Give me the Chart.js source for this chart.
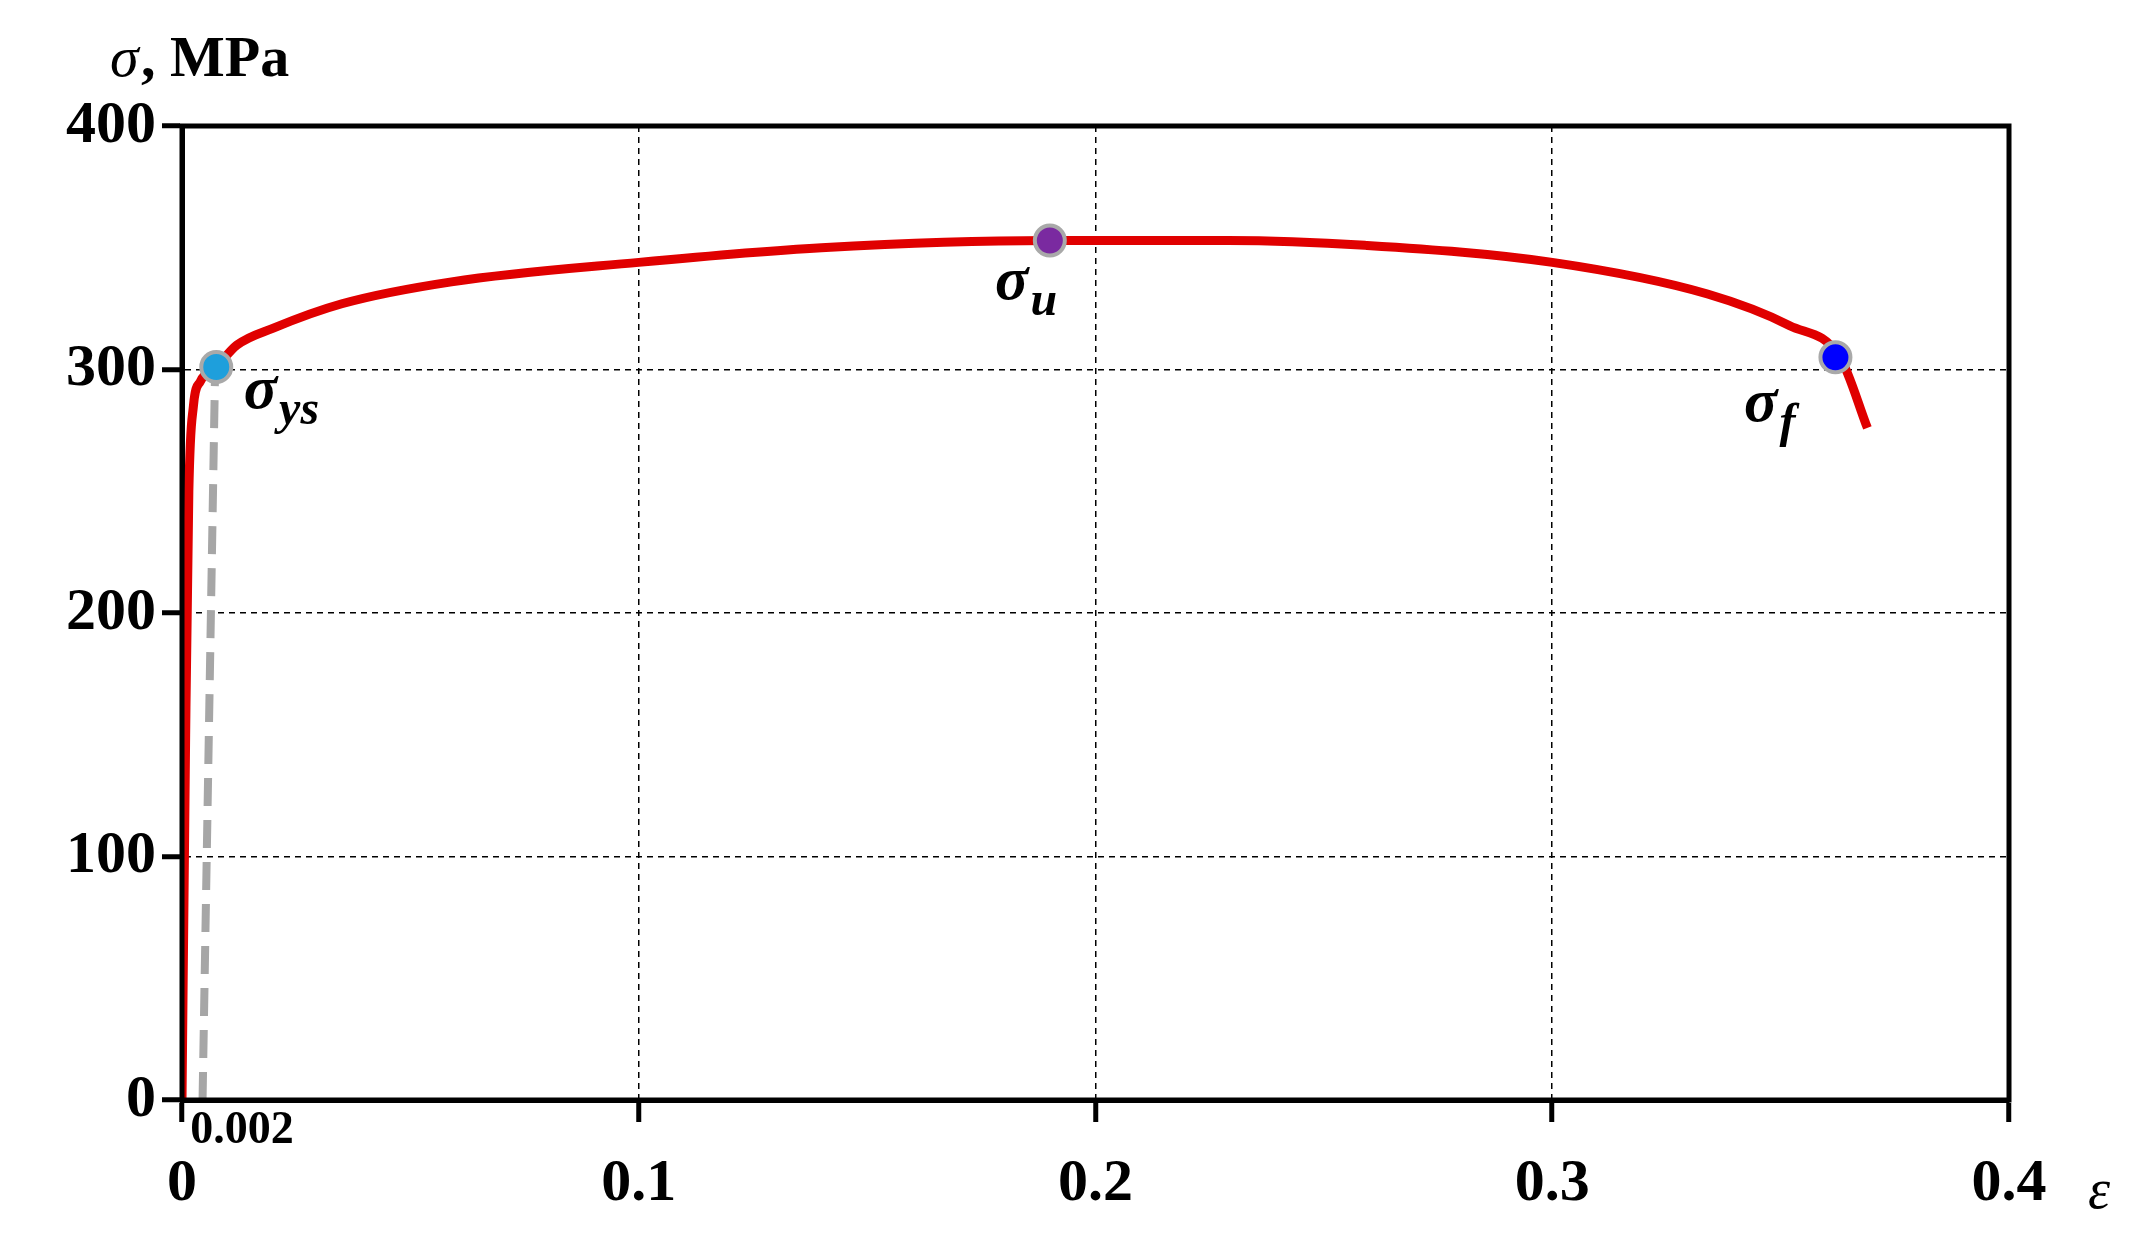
<!DOCTYPE html>
<html><head><meta charset="utf-8">
<script src="https://cdn.jsdelivr.net/npm/chart.js@4/dist/chart.umd.min.js"></script>
<style>html,body{margin:0;padding:0;background:#fff}#c{display:block}</style>
</head><body>
<canvas id="c" width="2138" height="1244"></canvas>
<script>
const strainCurve = [0,0.0008,0.0015,0.0025,0.004,0.0075,0.012,0.02,0.035,0.059,0.1,0.14,0.19,0.229,0.259,0.3,0.334,0.352,0.363,0.369];
const stressCurve = [0,150,250,285,295,301,310,317,327,336,344,350,353,353,351,344,331,318,305,276];
const offsetStrain = [0.0045,0.0072];
const offsetStress = [0,295];
const keyStrain = [0.0075,0.19,0.362];
const keyStress = [301,353,305];
const keyColors = ['#1e9fdc','#7a2aa0','#0000ff'];
const keyLabels = [['σ','ys'],['σ','u'],['σ','f']];
const keyLabelPos = [[0.0135,284],[0.178,329],[0.342,279]];
const xTicks = [0,0.1,0.2,0.3,0.4];
const yTicks = [0,100,200,300,400];

const F = '"Liberation Serif", "DejaVu Serif", serif';
const pts = (xs, ys) => xs.map((x,i)=>({x, y: ys[i]}));

const deco = {
  id:'deco',
  afterDraw(ch){
    const {ctx, chartArea:a, scales:{x,y}} = ch;
    ctx.save();
    ctx.strokeStyle='#000'; ctx.lineWidth=5; ctx.setLineDash([]);
    ctx.strokeRect(a.left, a.top, a.right-a.left, a.bottom-a.top);
    ctx.fillStyle='#000';
    keyLabels.forEach((l,i)=>{
      const px=x.getPixelForValue(keyLabelPos[i][0]), py=y.getPixelForValue(keyLabelPos[i][1]);
      ctx.textBaseline='alphabetic'; ctx.textAlign='left';
      ctx.font='bold italic 62px '+F; ctx.fillText(l[0],px,py);
      const w=ctx.measureText(l[0]).width;
      ctx.font='bold italic 48px '+F; ctx.fillText(l[1],px+w+2,py+16);
    });
    ctx.font='bold 46px '+F; ctx.textAlign='left'; ctx.textBaseline='top';
    ctx.fillText('0.002', x.getPixelForValue(0.0018), a.bottom+8);
    ctx.textBaseline='alphabetic';
    ctx.font='italic 58px '+F;
    ctx.fillText('σ', 110, 76);
    ctx.font='bold 58px '+F;
    ctx.fillText(', MPa', 141, 76);
    ctx.font='italic 56px '+F;
    ctx.fillText('ε', 2088, 1208);
    ctx.restore();
  }
};

new Chart(document.getElementById('c'), {
  type:'scatter',
  data:{datasets:[
    {data:pts(keyStrain,keyStress), showLine:false, pointRadius:15, pointBorderWidth:4,
     pointBackgroundColor:keyColors, pointBorderColor:'#a9a9a9', order:0},
    {data:pts(strainCurve,stressCurve), showLine:true, borderColor:'#e00000', borderWidth:9,
     pointRadius:0, cubicInterpolationMode:'monotone', order:1},
    {data:pts(offsetStrain,offsetStress), showLine:true, borderColor:'#a6a6a6', borderWidth:8,
     borderDash:[28,14], pointRadius:0, order:2}
  ]},
  options:{
    responsive:false, animation:false,
    layout:{padding:{top:126,right:129,left:0,bottom:0}},
    plugins:{legend:{display:false},tooltip:{enabled:false}},
    scales:{
      x:{type:'linear',min:0,max:0.4,
        afterFit(s){s.height=144;},
        afterBuildTicks(s){s.ticks=xTicks.map(v=>({value:v}));},
        grid:{color:'#000',lineWidth:1.5,tickLength:22,tickColor:'#000',tickWidth:5,tickBorderDash:[]},
        border:{display:true,color:'#000',width:5,dash:[6,5]},
        ticks:{font:{family:F,size:60,weight:'bold'},color:'#000',padding:26,maxRotation:0,
          callback:v=>String(v)}
      },
      y:{type:'linear',min:0,max:400,
        afterFit(s){s.width=182;},
        afterBuildTicks(s){s.ticks=yTicks.map(v=>({value:v}));},
        grid:{color:'#000',lineWidth:1.5,tickLength:20,tickColor:'#000',tickWidth:5,tickBorderDash:[]},
        border:{display:true,color:'#000',width:5,dash:[6,5]},
        ticks:{font:{family:F,size:60,weight:'bold'},color:'#000',padding:6,callback:v=>String(v)}
      }
    }
  },
  plugins:[deco]
});
</script>
</body></html>
